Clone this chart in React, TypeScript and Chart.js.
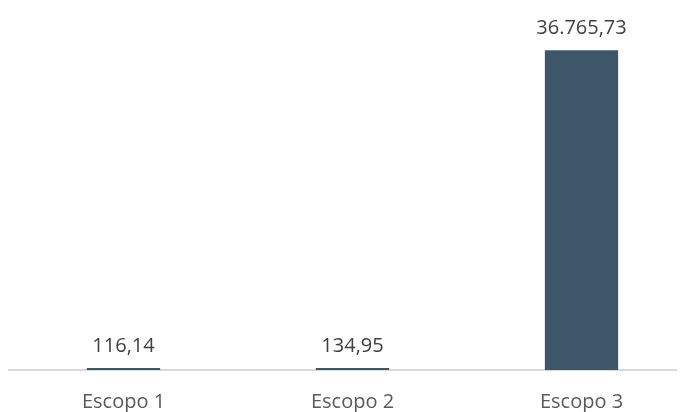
import React, { useEffect, useRef } from "react";
import { Chart, registerables } from "chart.js";

Chart.register(...registerables);

const categories = ["Escopo 1", "Escopo 2", "Escopo 3"];
const emissions = [116.14, 134.95, 36765.73];

const fmt = (v: number) =>
  v.toLocaleString("pt-BR", { minimumFractionDigits: 2, maximumFractionDigits: 2 });

// Writes each bar's value above it
const valueLabels = {
  id: "valueLabels",
  afterDatasetsDraw(chart: any) {
    const ctx = chart.ctx;
    const meta = chart.getDatasetMeta(0);
    ctx.save();
    ctx.font = "20px 'Open Sans', sans-serif";
    ctx.fillStyle = "#404040";
    ctx.textAlign = "center";
    ctx.textBaseline = "alphabetic";
    meta.data.forEach((bar: any, i: number) => {
      ctx.fillText(fmt(emissions[i]), bar.x, bar.y - 16);
    });
    ctx.restore();
  },
};

export default function App() {
  const ref = useRef<HTMLCanvasElement>(null);

  useEffect(() => {
    // the baseline runs off the right edge, so let the page hold the wide canvas
    document.documentElement.style.overflow = "hidden";
    const root = document.getElementById("root");
    if (root) root.style.width = "688px";
    const chart = new Chart(ref.current!, {
      type: "bar",
      data: {
        labels: categories,
        datasets: [
          {
            data: emissions,
            backgroundColor: "#3d5668",
            borderWidth: 0,
            barPercentage: 0.64,
            categoryPercentage: 0.5,
            minBarLength: 2,
          },
        ],
      },
      options: {
        responsive: false,
        animation: false,
        layout: { padding: { left: 1, right: 0, top: 14, bottom: 0 } },
        plugins: { legend: { display: false }, tooltip: { enabled: false } },
        scales: {
          x: {
            grid: { display: false, drawTicks: false },
            border: { display: true, color: "#d9d9d9", width: 2 },
            ticks: {
              color: "#595959",
              font: { family: "'Open Sans', sans-serif", size: 20 },
              padding: 20,
            },
          },
          y: {
            display: false,
            min: 0,
            max: 40000,
          },
        },
      },
      plugins: [valueLabels],
    });
    return () => chart.destroy();
  }, []);

  return <canvas ref={ref} width={688} height={426} style={{ display: "block" }} />;
}
